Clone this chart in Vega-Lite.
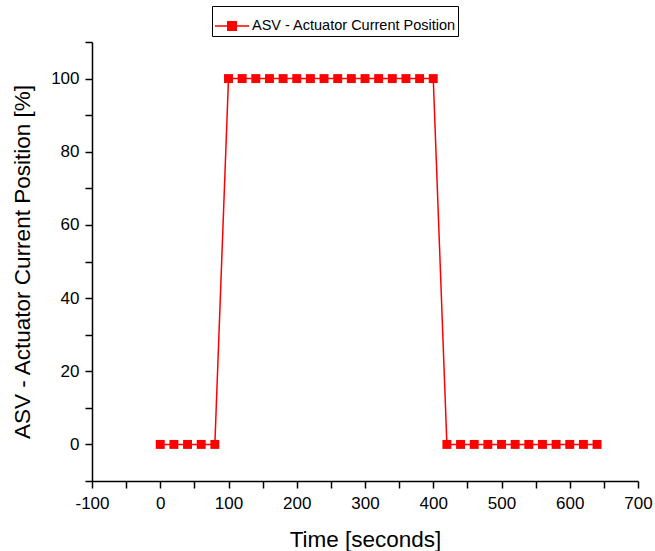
{
  "$schema": "https://vega.github.io/schema/vega-lite/v6.json",
  "width": 546,
  "height": 439,
  "autosize": "none",
  "padding": {"left": 92, "top": 42, "right": 17, "bottom": 70},
  "background": "white",
  "config": {
    "font": "Liberation Sans",
    "view": {"stroke": null},
    "axis": {"grid": false, "domainColor": "black", "tickColor": "black", "domainWidth": 1.5, "tickWidth": 1.5, "labelColor": "black", "titleColor": "black", "labelFont": "Liberation Sans", "titleFont": "Liberation Sans", "labelFontSize": 17, "titleFontSize": 22.5, "titleFontWeight": "normal", "tickSize": 7}
  },
  "data": {"values": [
    {"t": 0, "v": 0, "series": "ASV - Actuator Current Position"}, {"t": 20, "v": 0, "series": "ASV - Actuator Current Position"}, {"t": 40, "v": 0, "series": "ASV - Actuator Current Position"}, {"t": 60, "v": 0, "series": "ASV - Actuator Current Position"}, {"t": 80, "v": 0, "series": "ASV - Actuator Current Position"},
    {"t": 100, "v": 100, "series": "ASV - Actuator Current Position"}, {"t": 120, "v": 100, "series": "ASV - Actuator Current Position"}, {"t": 140, "v": 100, "series": "ASV - Actuator Current Position"}, {"t": 160, "v": 100, "series": "ASV - Actuator Current Position"}, {"t": 180, "v": 100, "series": "ASV - Actuator Current Position"},
    {"t": 200, "v": 100, "series": "ASV - Actuator Current Position"}, {"t": 220, "v": 100, "series": "ASV - Actuator Current Position"}, {"t": 240, "v": 100, "series": "ASV - Actuator Current Position"}, {"t": 260, "v": 100, "series": "ASV - Actuator Current Position"}, {"t": 280, "v": 100, "series": "ASV - Actuator Current Position"},
    {"t": 300, "v": 100, "series": "ASV - Actuator Current Position"}, {"t": 320, "v": 100, "series": "ASV - Actuator Current Position"}, {"t": 340, "v": 100, "series": "ASV - Actuator Current Position"}, {"t": 360, "v": 100, "series": "ASV - Actuator Current Position"}, {"t": 380, "v": 100, "series": "ASV - Actuator Current Position"},
    {"t": 400, "v": 100, "series": "ASV - Actuator Current Position"},
    {"t": 420, "v": 0, "series": "ASV - Actuator Current Position"}, {"t": 440, "v": 0, "series": "ASV - Actuator Current Position"}, {"t": 460, "v": 0, "series": "ASV - Actuator Current Position"}, {"t": 480, "v": 0, "series": "ASV - Actuator Current Position"}, {"t": 500, "v": 0, "series": "ASV - Actuator Current Position"},
    {"t": 520, "v": 0, "series": "ASV - Actuator Current Position"}, {"t": 540, "v": 0, "series": "ASV - Actuator Current Position"}, {"t": 560, "v": 0, "series": "ASV - Actuator Current Position"}, {"t": 580, "v": 0, "series": "ASV - Actuator Current Position"}, {"t": 600, "v": 0, "series": "ASV - Actuator Current Position"},
    {"t": 620, "v": 0, "series": "ASV - Actuator Current Position"}, {"t": 640, "v": 0, "series": "ASV - Actuator Current Position"}
  ]},
  "mark": {"type": "line", "strokeWidth": 1.5, "point": {"shape": "square", "filled": true, "size": 80}},
  "encoding": {
    "x": {
      "field": "t", "type": "quantitative",
      "scale": {"domain": [-100, 700], "nice": false, "zero": false},
      "axis": {
        "title": "Time [seconds]",
        "values": [-100, -50, 0, 50, 100, 150, 200, 250, 300, 350, 400, 450, 500, 550, 600, 650, 700],
        "labelExpr": "datum.value % 100 === 0 ? toString(datum.value) : ''",
        "encode": {"ticks": {"update": {"y2": {"signal": "datum.value % 100 === 0 ? 7 : 4"}}}},
        "labelPadding": 7,
        "titlePadding": 17,
        "labelFlush": false
      }
    },
    "y": {
      "field": "v", "type": "quantitative",
      "scale": {"domain": [-10, 110], "nice": false, "zero": false},
      "axis": {
        "title": "ASV - Actuator Current Position [%]",
        "values": [-10, 0, 10, 20, 30, 40, 50, 60, 70, 80, 90, 100, 110],
        "labelExpr": "datum.value % 20 === 0 && datum.value >= 0 && datum.value <= 100 ? toString(datum.value) : ''",
        "encode": {"ticks": {"update": {"x2": {"signal": "datum.value % 20 === 0 ? -7 : -4"}}}},
        "labelPadding": 6,
        "titlePadding": 16,
        "labelFlush": false
      }
    },
    "color": {
      "field": "series", "type": "nominal",
      "scale": {"domain": ["ASV - Actuator Current Position"], "range": ["#ff0000"]},
      "legend": {
        "title": null,
        "orient": "none",
        "legendX": 120,
        "legendY": -36,
        "symbolType": "M-1,0H1M-0.25,-0.25H0.25V0.25H-0.25Z",
        "symbolSize": 1156,
        "symbolStrokeWidth": 1.5,
        "symbolFillColor": "#ff0000",
        "symbolStrokeColor": "#ff0000",
        "labelFontSize": 14.5,
        "labelLimit": 0,
        "labelColor": "black",
        "labelFont": "Liberation Sans",
        "strokeColor": "black",
        "padding": 2,
        "cornerRadius": 0,
        "labelOffset": 2
      }
    }
  }
}
